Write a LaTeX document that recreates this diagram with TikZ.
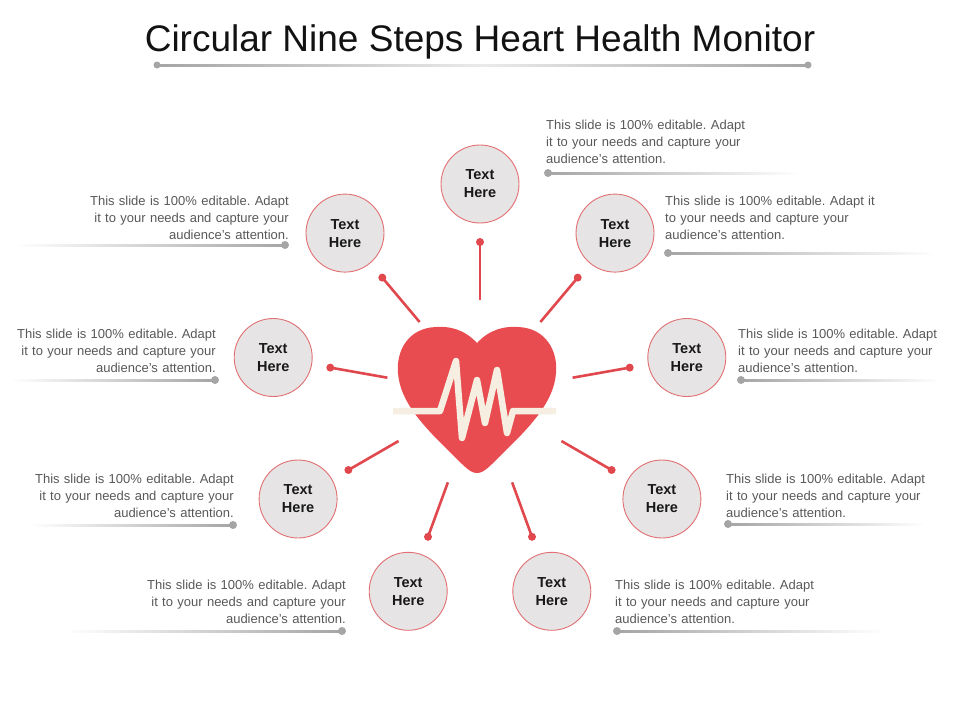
\documentclass[tikz,border=0pt]{standalone}
\usepackage{fontspec}
\setmainfont{Liberation Sans}
\usetikzlibrary{arrows,shapes}
\frenchspacing

\definecolor{heartred}{RGB}{232,76,80}
\definecolor{spokered}{RGB}{224,72,77}
\definecolor{ringred}{RGB}{226,112,114}
\definecolor{stepgray}{RGB}{230,228,229}
\definecolor{pulsecream}{RGB}{245,238,225}
\definecolor{textgray}{RGB}{88,88,88}
\definecolor{linegray}{RGB}{165,165,165}

\newcommand{\slidetext}{This slide is 100\% editable. Adapt\\it to your needs and capture your\\audience's attention.}

\begin{document}
\begin{tikzpicture}[x=1pt,y=-1pt,
    stepnode/.style={circle,draw=ringred,line width=0.9pt,fill=stepgray,minimum size=78pt,
                     inner sep=0pt,align=center,text=black!90,
                     font=\fontsize{14.5}{18}\selectfont\bfseries},
    spoke/.style={draw=spokered,line width=2.6pt},
    blurb/.style={text width=215pt,inner sep=0pt,text=textgray,font=\fontsize{13}{17}\selectfont},
    rblurb/.style={blurb,anchor=base east,align=right},
    lblurb/.style={blurb,anchor=base west,align=left}]

  \useasboundingbox (0,0) rectangle (960,720);

  \node[anchor=base,font=\fontsize{37}{40}\selectfont,text=black!93] (title) at (480,51.5)
        {Circular Nine Steps Heart Health Monitor};
  \coordinate (tl) at (157,65);
  \coordinate (tr) at (808,65);
  \shade[left color=linegray,right color=linegray,middle color=black!8] ([yshift=-1pt]tl) rectangle ([yshift=1pt]tr);
  \fill[linegray] (tl) circle (3.5) (tr) circle (3.5);

  % heart
  \fill[heartred] (477,343) .. controls (490,329) and (505,326) .. (518,327)
        .. controls (546,328) and (558,351) .. (556,373)
        .. controls (554,402) and (530,427) .. (501,455)
        .. controls (490,466) and (484,473) .. (477,473)
        .. controls (470,473) and (464,466) .. (453,455)
        .. controls (424,427) and (400,402) .. (398,373)
        .. controls (396,351) and (408,328) .. (436,327)
        .. controls (449,326) and (464,329) .. (477,343) -- cycle;
  \draw[pulsecream,line width=6.5pt,line join=round]
        (393,411) -- (440,411) -- (456,361) -- (462,438) -- (477,380) -- (485,423)
        -- (497,370) -- (507,433) -- (513,411) -- (556,411);

  \node[stepnode] (c1) at (480,184)     {Text\\Here};
  \node[stepnode] (c2) at (615,233.1)   {Text\\Here};
  \node[stepnode] (c3) at (686.8,357.5) {Text\\Here};
  \node[stepnode] (c4) at (661.9,499)   {Text\\Here};
  \node[stepnode] (c5) at (551.8,591.3) {Text\\Here};
  \node[stepnode] (c6) at (408.2,591.3) {Text\\Here};
  \node[stepnode] (c7) at (298.1,499)   {Text\\Here};
  \node[stepnode] (c8) at (273.2,357.5) {Text\\Here};
  \node[stepnode] (c9) at (345,233.1)   {Text\\Here};

  \coordinate (s1) at (480,300);   \coordinate (d1) at (480,242);
  \coordinate (s2) at (540.4,322); \coordinate (d2) at (577.7,277.6);
  \coordinate (s3) at (572.6,377.7); \coordinate (d3) at (629.7,367.6);
  \coordinate (s4) at (561.4,441); \coordinate (d4) at (611.6,470);
  \coordinate (s5) at (512.1,482.3); \coordinate (d5) at (532,536.8);
  \coordinate (s6) at (447.9,482.3); \coordinate (d6) at (428,536.8);
  \coordinate (s7) at (398.6,441); \coordinate (d7) at (348.4,470);
  \coordinate (s8) at (387.4,377.7); \coordinate (d8) at (330.3,367.6);
  \coordinate (s9) at (419.6,322); \coordinate (d9) at (382.3,277.6);

  \path (s1) edge[spoke] (d1)
        (s2) edge[spoke] (d2)
        (s3) edge[spoke] (d3)
        (s4) edge[spoke] (d4)
        (s5) edge[spoke] (d5)
        (s6) edge[spoke] (d6)
        (s7) edge[spoke] (d7)
        (s8) edge[spoke] (d8)
        (s9) edge[spoke] (d9);
  \fill[spokered] (d1) circle (4) (d2) circle (4) (d3) circle (4) (d4) circle (4) (d5) circle (4)
                  (d6) circle (4) (d7) circle (4) (d8) circle (4) (d9) circle (4);

  \node[lblurb] (t1) at (546,129.5) {\slidetext};
  \node[lblurb] (t2) at (665,205)
        {This slide is 100\% editable. Adapt it\\to your needs and capture your\\audience's attention.};
  \node[lblurb] (t3) at (738,338) {\slidetext};
  \node[lblurb] (t4) at (726,483) {\slidetext};
  \node[lblurb] (t5) at (615,589) {\slidetext};
  \node[rblurb] (t6) at (346,589) {\slidetext};
  \node[rblurb] (t7) at (234,483) {\slidetext};
  \node[rblurb] (t8) at (216,338) {\slidetext};
  \node[rblurb] (t9) at (289,205) {\slidetext};

  \coordinate (u1) at (548,173); \coordinate (e1) at (800,173);
  \coordinate (u2) at (668,253); \coordinate (e2) at (935,253);
  \coordinate (u3) at (741,380); \coordinate (e3) at (940,380);
  \coordinate (u4) at (728,524); \coordinate (e4) at (925,524);
  \coordinate (u5) at (617,631); \coordinate (e5) at (885,631);
  \coordinate (u6) at (342,631); \coordinate (e6) at (65,631);
  \coordinate (u7) at (233,525); \coordinate (e7) at (30,525);
  \coordinate (u8) at (215,380); \coordinate (e8) at (10,380);
  \coordinate (u9) at (285,245); \coordinate (e9) at (15,245);

  \shade[left color=linegray,right color=white] ([yshift=-1pt]u1) rectangle ([yshift=1pt]e1);
  \shade[left color=linegray,right color=white] ([yshift=-1pt]u2) rectangle ([yshift=1pt]e2);
  \shade[left color=linegray,right color=white] ([yshift=-1pt]u3) rectangle ([yshift=1pt]e3);
  \shade[left color=linegray,right color=white] ([yshift=-1pt]u4) rectangle ([yshift=1pt]e4);
  \shade[left color=linegray,right color=white] ([yshift=-1pt]u5) rectangle ([yshift=1pt]e5);
  \shade[left color=white,right color=linegray] ([yshift=-1pt]e6) rectangle ([yshift=1pt]u6);
  \shade[left color=white,right color=linegray] ([yshift=-1pt]e7) rectangle ([yshift=1pt]u7);
  \shade[left color=white,right color=linegray] ([yshift=-1pt]e8) rectangle ([yshift=1pt]u8);
  \shade[left color=white,right color=linegray] ([yshift=-1pt]e9) rectangle ([yshift=1pt]u9);
  \fill[linegray] (u1) circle (4) (u2) circle (4) (u3) circle (4) (u4) circle (4) (u5) circle (4)
                  (u6) circle (4) (u7) circle (4) (u8) circle (4) (u9) circle (4);
\end{tikzpicture}
\end{document}
